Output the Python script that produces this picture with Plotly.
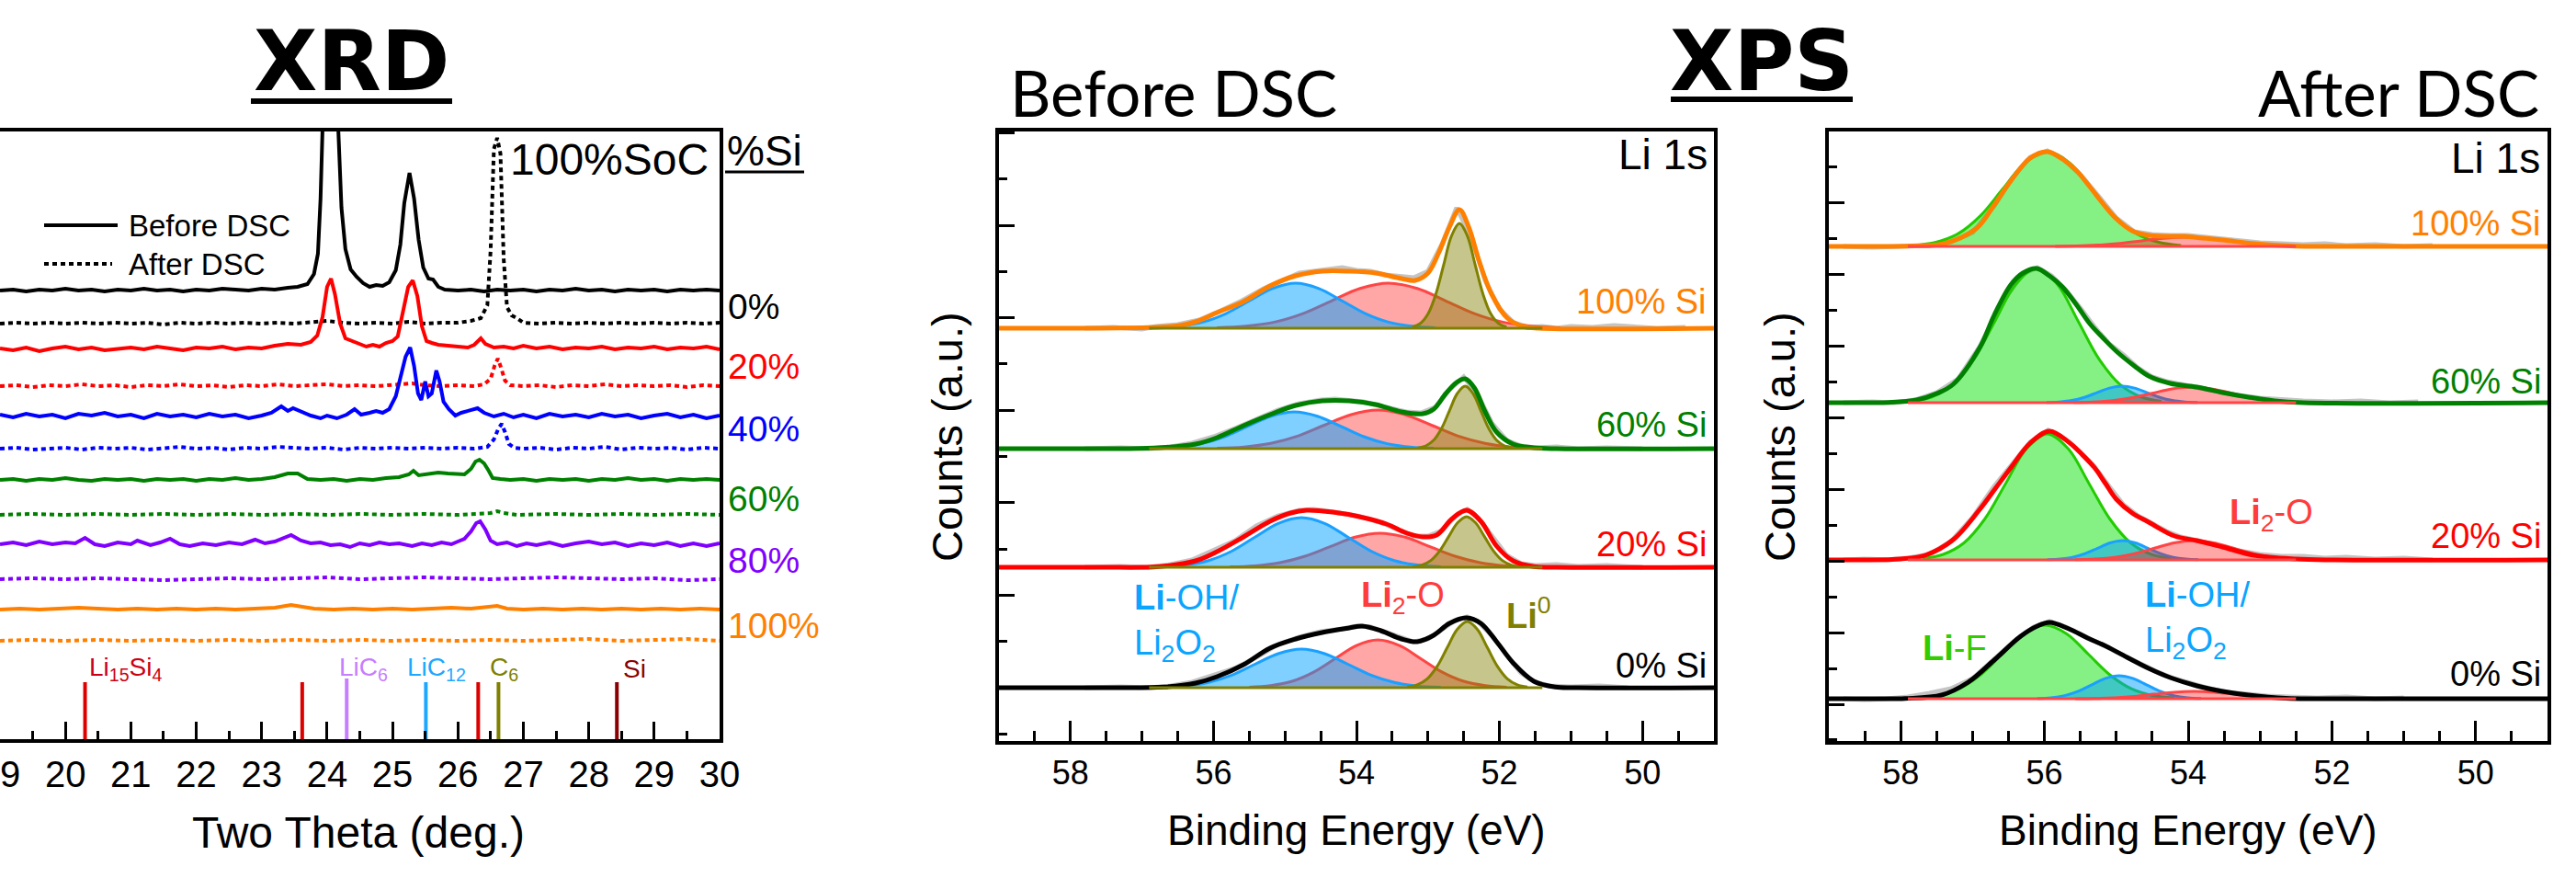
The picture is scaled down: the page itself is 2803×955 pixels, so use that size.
import plotly.graph_objects as go

W, H = 2803, 955
SANS = "Liberation Sans, Arial, Helvetica, sans-serif"
HUMAN = "Lato, Open Sans, sans-serif"
HEAD = "DejaVu Sans, Verdana, sans-serif"

# ======================= XRD data (2theta, intensity above trace baseline) =======================
XRD_SERIES = ["0%", "20%", "40%", "60%", "80%", "100%"]
XRD_COLORS = ["#000000", "#ff0000", "#0000ff", "#008000", "#8000ff", "#ff8000"]
XRD_OFFSET_BEFORE = [488, 424, 351, 282, 212, 141]
XRD_OFFSET_AFTER = [452, 384, 316, 244, 174, 107]

XRD_0_BEFORE = [(19.0,0),(19.2,1),(19.4,-1),(19.6,1),(19.8,0),(20.0,2),(20.2,0),(20.4,1),(20.6,-1),(20.8,1),(21.0,0),(21.2,2),(21.4,0),(21.6,1),(21.8,-1),(22.0,1),(22.2,0),(22.4,2),(22.6,1),(22.8,0),(23.0,2),(23.2,1),(23.4,3),(23.55,4),(23.7,7),(23.8,18),(23.86,40),(23.9,100),(23.94,200),(24.0,330),(24.04,360),(24.1,300),(24.16,190),(24.22,90),(24.28,45),(24.36,23),(24.45,15),(24.55,8),(24.65,4),(24.75,6),(24.85,5),(24.95,9),(25.05,22),(25.12,50),(25.18,95),(25.26,128),(25.33,100),(25.4,55),(25.47,25),(25.55,13),(25.62,12),(25.7,4),(25.8,1),(26.0,0),(26.2,1),(26.4,-1),(26.6,1),(26.8,0),(27.0,1),(27.2,-1),(27.4,1),(27.6,0),(27.8,2),(28.0,0),(28.2,1),(28.4,-1),(28.6,1),(28.8,0),(29.0,1),(29.2,-1),(29.4,1),(29.6,0),(29.8,1),(30.0,0)]
XRD_0_AFTER = [(19.0,0),(19.25,1),(19.5,0),(19.75,1),(20.0,0),(20.25,1),(20.5,0),(20.75,1),(21.0,0),(21.25,1),(21.5,-1),(21.75,1),(22.0,0),(22.25,1),(22.5,0),(22.75,1),(23.0,0),(23.25,1),(23.5,0),(23.75,1),(24.0,3),(24.25,1),(24.5,0),(24.75,1),(25.0,0),(25.25,2),(25.5,0),(25.75,1),(26.0,1),(26.2,3),(26.35,6),(26.45,20),(26.5,80),(26.55,190),(26.6,202),(26.65,185),(26.7,70),(26.75,18),(26.82,9),(26.9,6),(27.0,1),(27.25,0),(27.5,1),(27.75,0),(28.0,1),(28.25,0),(28.5,1),(28.75,0),(29.0,1),(29.25,0),(29.5,1),(29.75,0),(30.0,1)]
XRD_20_BEFORE = [(19.0,1),(19.2,-1),(19.4,2),(19.6,-2),(19.8,1),(20.0,3),(20.2,0),(20.4,2),(20.6,-1),(20.8,1),(21.0,2),(21.2,0),(21.4,3),(21.6,1),(21.8,-1),(22.0,2),(22.2,1),(22.4,3),(22.6,0),(22.8,2),(23.0,1),(23.2,4),(23.4,6),(23.6,5),(23.75,8),(23.85,15),(23.93,35),(24.0,68),(24.06,77),(24.12,60),(24.2,28),(24.28,12),(24.38,9),(24.5,6),(24.6,3),(24.7,5),(24.8,3),(24.9,7),(25.0,9),(25.08,14),(25.16,40),(25.24,68),(25.31,75),(25.38,58),(25.45,25),(25.52,9),(25.6,7),(25.7,5),(25.85,4),(26.0,3),(26.15,2),(26.25,5),(26.35,12),(26.42,6),(26.55,2),(26.7,3),(26.85,1),(27.0,4),(27.2,1),(27.4,3),(27.6,0),(27.8,2),(28.0,1),(28.2,3),(28.4,0),(28.6,2),(28.8,1),(29.0,3),(29.2,0),(29.4,2),(29.6,1),(29.8,3),(30.0,0)]
XRD_20_AFTER = [(19.0,0),(19.25,1),(19.5,-1),(19.75,1),(20.0,0),(20.25,2),(20.5,0),(20.75,1),(21.0,-1),(21.25,1),(21.5,0),(21.75,2),(22.0,0),(22.25,1),(22.5,-1),(22.75,1),(23.0,0),(23.25,2),(23.5,0),(23.75,1),(24.0,2),(24.25,0),(24.5,1),(24.75,0),(25.0,1),(25.3,3),(25.5,1),(25.75,0),(26.0,1),(26.25,0),(26.4,2),(26.5,8),(26.56,22),(26.61,30),(26.66,20),(26.72,6),(26.8,1),(27.0,0),(27.25,1),(27.5,-1),(27.75,1),(28.0,0),(28.25,2),(28.5,0),(28.75,1),(29.0,0),(29.25,1),(29.5,-1),(29.75,1),(30.0,0)]
XRD_40_BEFORE = [(19.0,2),(19.2,-1),(19.4,3),(19.6,0),(19.8,2),(20.0,-2),(20.2,3),(20.4,1),(20.6,4),(20.8,0),(21.0,2),(21.2,-2),(21.4,3),(21.6,0),(21.8,2),(22.0,-1),(22.2,3),(22.4,0),(22.6,2),(22.8,-2),(23.0,1),(23.15,4),(23.3,11),(23.4,6),(23.48,9),(23.6,5),(23.75,1),(23.9,-2),(24.0,1),(24.15,-2),(24.3,2),(24.42,8),(24.52,2),(24.65,4),(24.75,6),(24.85,4),(24.95,8),(25.05,22),(25.13,45),(25.2,65),(25.27,75),(25.33,55),(25.39,25),(25.44,18),(25.5,38),(25.55,22),(25.6,25),(25.67,50),(25.72,38),(25.78,16),(25.86,8),(25.96,1),(26.05,4),(26.2,7),(26.3,9),(26.4,4),(26.55,0),(26.7,3),(26.85,-1),(27.0,2),(27.2,-2),(27.4,3),(27.6,0),(27.8,2),(28.0,-1),(28.2,3),(28.4,0),(28.6,2),(28.8,-2),(29.0,1),(29.2,3),(29.4,-1),(29.6,2),(29.8,-2),(30.0,1)]
XRD_40_AFTER = [(19.0,0),(19.25,1),(19.5,-1),(19.75,0),(20.0,1),(20.25,-1),(20.5,1),(20.75,0),(21.0,1),(21.25,-1),(21.5,0),(21.75,2),(22.0,0),(22.25,1),(22.5,-1),(22.75,1),(23.0,0),(23.25,2),(23.5,1),(23.75,0),(24.0,1),(24.25,-1),(24.5,1),(24.75,0),(25.0,1),(25.25,0),(25.5,1),(25.75,0),(26.0,1),(26.25,0),(26.45,2),(26.55,10),(26.62,22),(26.67,27),(26.72,18),(26.78,5),(26.86,1),(27.0,0),(27.25,1),(27.5,-1),(27.75,1),(28.0,0),(28.25,2),(28.5,-1),(28.75,1),(29.0,0),(29.25,1),(29.5,-1),(29.75,1),(30.0,0)]
XRD_60_BEFORE = [(19.0,0),(19.2,1),(19.4,-1),(19.6,1),(19.8,0),(20.0,2),(20.2,0),(20.4,-1),(20.6,1),(20.8,0),(21.0,1),(21.2,-1),(21.4,1),(21.6,0),(21.8,1),(22.0,-1),(22.2,1),(22.4,0),(22.6,2),(22.8,0),(23.0,1),(23.2,3),(23.4,7),(23.55,7),(23.7,1),(23.9,0),(24.1,1),(24.3,-1),(24.5,1),(24.7,0),(24.9,2),(25.1,3),(25.25,6),(25.32,10),(25.4,5),(25.55,6),(25.7,8),(25.85,7),(26.0,6),(26.1,6),(26.2,12),(26.27,20),(26.33,22),(26.4,18),(26.47,10),(26.53,2),(26.65,1),(26.8,0),(27.0,1),(27.2,-1),(27.4,1),(27.6,0),(27.8,1),(28.0,-1),(28.2,1),(28.4,0),(28.6,2),(28.8,0),(29.0,1),(29.2,-1),(29.4,1),(29.6,0),(29.8,1),(30.0,0)]
XRD_60_AFTER = [(19.0,0),(19.5,1),(20.0,0),(20.5,1),(21.0,0),(21.5,1),(22.0,0),(22.5,1),(23.0,0),(23.5,1),(24.0,0),(24.5,1),(25.0,0),(25.5,1),(26.0,0),(26.3,1),(26.5,2),(26.6,4),(26.7,2),(26.9,0),(27.5,1),(28.0,0),(28.5,1),(29.0,0),(29.5,1),(30.0,0)]
XRD_80_BEFORE = [(19.0,0),(19.2,2),(19.4,-1),(19.6,3),(19.8,0),(20.0,2),(20.15,1),(20.3,7),(20.45,0),(20.6,-2),(20.8,2),(21.0,0),(21.1,4),(21.3,-1),(21.45,2),(21.6,6),(21.75,0),(21.9,-2),(22.1,1),(22.3,-1),(22.5,2),(22.7,0),(22.9,5),(23.05,1),(23.2,3),(23.3,6),(23.45,10),(23.6,4),(23.75,1),(23.9,2),(24.05,-1),(24.2,0),(24.35,-3),(24.5,1),(24.65,-1),(24.8,2),(24.95,0),(25.1,1),(25.3,-2),(25.45,1),(25.6,-1),(25.75,2),(25.9,0),(26.0,3),(26.1,6),(26.2,14),(26.28,23),(26.34,25),(26.42,16),(26.5,4),(26.6,0),(26.75,2),(26.9,-2),(27.05,1),(27.2,-1),(27.4,2),(27.6,-2),(27.8,1),(28.0,3),(28.2,0),(28.4,2),(28.6,-2),(28.8,1),(29.0,-1),(29.2,2),(29.4,-2),(29.6,1),(29.8,-2),(30.0,1)]
XRD_80_AFTER = [(19.0,0),(19.5,1),(20.0,0),(20.5,1),(21.0,0),(21.5,-1),(22.0,0),(22.5,1),(23.0,0),(23.5,1),(24.0,2),(24.5,0),(25.0,1),(25.5,2),(26.0,1),(26.5,0),(27.0,1),(27.5,2),(28.0,1),(28.5,0),(29.0,1),(29.5,-1),(30.0,0)]
XRD_100_BEFORE = [(19.0,0),(19.3,1),(19.6,0),(19.9,1),(20.2,2),(20.5,1),(20.8,0),(21.1,1),(21.4,0),(21.7,1),(22.0,0),(22.3,1),(22.6,0),(22.9,1),(23.2,2),(23.45,5),(23.6,3),(23.8,1),(24.1,0),(24.4,1),(24.7,0),(25.0,1),(25.3,0),(25.6,1),(25.9,2),(26.2,1),(26.45,3),(26.6,4),(26.75,1),(27.0,0),(27.3,1),(27.6,0),(27.9,1),(28.2,0),(28.5,1),(28.8,0),(29.1,1),(29.4,0),(29.7,1),(30.0,0)]
XRD_100_AFTER = [(19.0,0),(19.5,1),(20.0,0),(20.5,1),(21.0,0),(21.5,1),(22.0,0),(22.5,1),(23.0,0),(23.5,1),(24.0,0),(24.5,1),(25.0,0),(25.5,1),(26.0,0),(26.5,1),(27.0,0),(27.5,1),(28.0,2),(28.5,0),(29.0,1),(29.5,2),(30.0,0)]

XRD_BEFORE = [XRD_0_BEFORE, XRD_20_BEFORE, XRD_40_BEFORE, XRD_60_BEFORE, XRD_80_BEFORE, XRD_100_BEFORE]
XRD_AFTER = [XRD_0_AFTER, XRD_20_AFTER, XRD_40_AFTER, XRD_60_AFTER, XRD_80_AFTER, XRD_100_AFTER]

# reference patterns
XRD_REF_POS = [20.3, 23.62, 24.3, 25.51, 26.31, 26.62, 28.43]
XRD_REF_HEIGHT = [62, 62, 66, 62, 62, 62, 62]
XRD_REF_COLORS = ["#dd0000", "#dd0000", "#c77dff", "#1ea7ff", "#dd0000", "#808000", "#8b0000"]
XRD_REF_NAMES = ["Li<sub>15</sub>Si<sub>4</sub>", "LiC<sub>6</sub>", "LiC<sub>12</sub>", "C<sub>6</sub>", "Si"]
XRD_REF_NAME_POS = [20.34, 24.16, 25.2, 26.46, 28.5]
XRD_REF_NAME_COLORS = ["#cc0011", "#c77dff", "#1ea7ff", "#808000", "#8b0000"]
XRD_TICKS = list(range(19, 31))

# ======================= XPS data (binding energy eV, counts above baseline) =======================
XPS_SERIES = ["100% Si", "60% Si", "20% Si", "0% Si"]
XPS_COLORS = ["#ff8000", "#008000", "#ff0000", "#000000"]
XPS_BASE_BEFORE = [449, 318, 189, 58]
XPS_BASE_AFTER = [538, 368, 197, 46]
FIT_RANGE_BEFORE = [56.9, 51.4]
FIT_RANGE_AFTER = [57.9, 52.5]

B_ENV_100 = [(59,0),(57.6,0),(57.0,0.5),(56.83,1),(56.47,3),(56.25,7),(55.95,17),(55.58,29),(55.21,46),(54.85,57),(54.48,62),(54.1,62),(53.73,60),(53.37,54),(53.18,52),(53.0,60),(52.85,82),(52.7,110),(52.56,129),(52.43,110),(52.28,72),(52.11,37),(51.89,11),(51.67,2),(51.45,0),(49,0)]
B_ENV_60 = [(59,0),(57.6,0),(56.83,0.7),(56.25,5),(55.95,12),(55.58,25),(55.21,37),(54.85,47),(54.48,52),(54.1,52),(53.73,48),(53.37,40),(53.07,38),(52.92,43),(52.75,60),(52.6,72),(52.48,76),(52.35,66),(52.2,40),(52.04,18),(51.81,5),(51.52,1),(51.2,0),(49,0)]
B_ENV_20 = [(59,0),(57.6,0),(56.76,0.7),(56.25,7),(55.95,17),(55.58,33),(55.21,50),(54.92,59),(54.7,62),(54.33,60),(53.96,55),(53.58,47),(53.29,37),(53.07,33),(52.88,35),(52.66,53),(52.46,62),(52.26,50),(52.04,23),(51.81,7),(51.52,0.7),(51.2,0),(49,0)]
B_ENV_0 = [(59,0),(57.6,0),(56.69,0.7),(56.25,5),(55.95,12),(55.58,25),(55.21,43),(54.85,53),(54.48,60),(54.1,65),(53.92,67),(53.66,62),(53.37,53),(53.15,50),(52.92,57),(52.7,70),(52.46,76),(52.26,70),(52.04,50),(51.81,27),(51.52,7),(51.22,0.7),(50.9,0),(49,0)]

B100_BLUE = [(56.8,0.5),(56.475,2.2),(56.15,6.6),(55.825,15.9),(55.5,29.7),(55.175,43.2),(54.85,49),(54.525,43.2),(54.2,29.7),(53.875,15.9),(53.55,6.6),(53.225,2.2),(52.9,0.5)]
B100_RED = [(55.95,0.5),(55.55,2.2),(55.15,6.6),(54.75,15.9),(54.35,29.7),(53.95,43.2),(53.55,49),(53.15,43.2),(52.75,29.7),(52.35,15.9),(51.95,6.6),(51.55,2.2),(51.15,0.5)]
B100_LI0 = [(53.22,1.3),(53.11,5),(53.0,15.4),(52.89,37),(52.78,69),(52.67,100.6),(52.56,114),(52.45,100.6),(52.34,69),(52.23,37),(52.12,15.4),(52.01,5),(51.9,1.3)]
B60_BLUE = [(56.82,0.4),(56.495,1.8),(56.17,5.4),(55.845,13),(55.52,24.3),(55.195,35.3),(54.87,40),(54.545,35.3),(54.22,24.3),(53.895,13),(53.57,5.4),(53.245,1.8),(52.92,0.4)]
B60_RED = [(55.95,0.5),(55.575,1.8),(55.2,5.7),(54.825,13.6),(54.45,25.5),(54.075,37),(53.7,42),(53.325,37),(52.95,25.5),(52.575,13.6),(52.2,5.7),(51.825,1.8),(51.45,0.5)]
B60_LI0 = [(53.14,0.8),(53.03,3),(52.92,9.2),(52.81,22),(52.7,41.2),(52.59,60),(52.48,68),(52.37,60),(52.26,41.2),(52.15,22),(52.04,9.2),(51.93,3),(51.82,0.8)]
B20_BLUE = [(56.72,0.6),(56.395,2.4),(56.07,7.3),(55.745,17.5),(55.42,32.8),(55.095,47.7),(54.77,54),(54.445,47.7),(54.12,32.8),(53.795,17.5),(53.47,7.3),(53.145,2.4),(52.82,0.6)]
B20_RED = [(55.77,0.4),(55.42,1.6),(55.07,5),(54.72,12),(54.37,22.4),(54.02,32.7),(53.67,37),(53.32,32.7),(52.97,22.4),(52.62,12),(52.27,5),(51.92,1.6),(51.57,0.4)]
B20_LI0 = [(53.21,0.6),(53.085,2.4),(52.96,7.4),(52.835,17.9),(52.71,33.4),(52.585,48.5),(52.46,55),(52.335,48.5),(52.21,33.4),(52.085,17.9),(51.96,7.4),(51.835,2.4),(51.71,0.6)]
B0_BLUE = [(56.72,0.5),(56.395,1.8),(56.07,5.7),(55.745,13.6),(55.42,25.5),(55.095,37),(54.77,42),(54.445,37),(54.12,25.5),(53.795,13.6),(53.47,5.7),(53.145,1.8),(52.82,0.5)]
B0_RED = [(55.5,0.6),(55.2,2.3),(54.9,7),(54.6,16.9),(54.3,31.5),(54.0,45.9),(53.7,52),(53.4,45.9),(53.1,31.5),(52.8,16.9),(52.5,7),(52.2,2.3),(51.9,0.6)]
B0_LI0 = [(53.29,0.8),(53.15,3.2),(53.01,9.7),(52.87,23.4),(52.73,43.7),(52.59,63.5),(52.45,72),(52.31,63.5),(52.17,43.7),(52.03,23.4),(51.89,9.7),(51.75,3.2),(51.61,0.8)]

G_B100 = [(57.8,0),(57.4,1),(57.0,-1),(56.8,2),(56.5,4),(56.2,9),(55.9,19),(55.6,30),(55.3,43),(55.0,53),(54.8,60),(54.6,62),(54.4,64),(54.2,66),(54.0,63),(53.8,62),(53.6,58),(53.4,56),(53.2,55),(53.0,62),(52.8,92),(52.6,131),(52.4,100),(52.2,52),(52.0,21),(51.8,6),(51.6,1),(51.4,2),(51.2,0),(51.0,2),(50.7,1),(50.4,3),(50.1,1),(49.8,0),(49.4,1)]
G_B60 = [(57.8,0),(57.3,1),(56.9,0),(56.6,2),(56.3,6),(56.0,13),(55.7,22),(55.4,32),(55.1,42),(54.8,49),(54.5,53),(54.3,54),(54.1,53),(53.9,51),(53.7,47),(53.5,44),(53.3,40),(53.1,39),(52.9,45),(52.7,64),(52.5,78),(52.3,58),(52.1,27),(51.9,9),(51.7,3),(51.5,1),(51.2,2),(50.9,0),(50.5,1),(50.0,0)]
G_B20 = [(57.8,0),(57.3,1),(56.9,0),(56.6,3),(56.3,8),(56.0,19),(55.7,29),(55.4,45),(55.1,56),(54.8,62),(54.6,63),(54.4,61),(54.2,59),(54.0,56),(53.8,52),(53.6,47),(53.4,40),(53.2,34),(53.0,34),(52.8,40),(52.6,57),(52.45,63),(52.3,54),(52.1,33),(51.9,13),(51.7,4),(51.5,2),(51.2,3),(50.9,1),(50.5,2),(50.0,0)]
G_B0 = [(57.8,0),(57.3,1),(56.9,0),(56.6,2),(56.3,6),(56.0,13),(55.7,21),(55.4,33),(55.1,47),(54.8,55),(54.5,61),(54.2,64),(54.0,67),(53.8,66),(53.6,61),(53.4,55),(53.2,50),(53.0,53),(52.8,64),(52.6,74),(52.45,77),(52.3,72),(52.1,56),(51.9,35),(51.7,16),(51.5,6),(51.3,2),(51.0,1),(50.6,2),(50.2,0)]

A_ENV_100 = [(59,0),(58.3,0),(57.86,0.5),(57.4,3),(56.94,20),(56.7,45),(56.47,71),(56.2,96),(55.96,103),(55.75,95),(55.55,82),(55.37,65),(55.18,46),(55.0,30),(54.78,17),(54.55,12),(54.3,11),(54.05,11),(53.8,9),(53.52,7),(53.08,3),(52.57,0.5),(52.2,0),(49,0)]
A_ENV_60 = [(59,0),(58.4,0),(58.17,0.3),(57.78,3),(57.5,10),(57.27,20),(56.9,60),(56.7,95),(56.47,128),(56.3,141),(56.11,146),(55.93,138),(55.75,126),(55.55,106),(55.37,86),(55.18,70),(55.0,56),(54.75,40),(54.55,29),(54.25,21),(53.88,17),(53.52,11),(53.16,6),(52.8,2),(52.4,0),(49,0)]
A_ENV_20 = [(59,0),(58.54,0),(58.0,1),(57.66,5),(57.27,22),(56.9,55),(56.68,78),(56.47,100),(56.2,127),(55.93,140),(55.66,128),(55.48,115),(55.3,100),(55.15,83),(55.0,66),(54.78,51),(54.55,41),(54.19,26),(53.88,21),(53.52,14),(53.08,5),(52.5,1),(52.0,0),(49,0)]
A_ENV_0 = [(59,0),(58.3,0),(57.94,0.3),(57.43,4),(57.06,18),(56.7,42),(56.33,68),(56.1,79),(55.93,83),(55.66,76),(55.4,66),(55.14,57),(54.85,45),(54.55,33),(54.25,23),(53.88,14),(53.52,8),(53.16,4),(52.64,0.5),(52.2,0),(49,0)]

A100_LIF = [(57.82,1.1),(57.51,4.5),(57.2,13.9),(56.89,33.4),(56.58,62.5),(56.27,90.9),(55.96,103),(55.65,90.9),(55.34,62.5),(55.03,33.4),(54.72,13.9),(54.41,4.5),(54.1,1.1)]
A100_LI2O = [(55.85,0.1),(55.55,0.4),(55.25,1.4),(54.95,3.2),(54.65,6.1),(54.35,8.8),(54.05,10),(53.75,8.8),(53.45,6.1),(53.15,3.2),(52.85,1.4),(52.55,0.4),(52.25,0.1)]
A60_LIF = [(57.85,1.6),(57.56,6.4),(57.27,19.8),(56.98,47.4),(56.69,88.5),(56.4,128.8),(56.11,146),(55.82,128.8),(55.53,88.5),(55.24,47.4),(54.95,19.8),(54.66,6.4),(54.37,1.6)]
A60_LIOH = [(55.97,0.2),(55.795,0.8),(55.62,2.4),(55.445,5.8),(55.27,10.9),(55.095,15.9),(54.92,18),(54.745,15.9),(54.57,10.9),(54.395,5.8),(54.22,2.4),(54.045,0.8),(53.87,0.2)]
A60_LI2O = [(55.6,0.2),(55.325,0.7),(55.05,2.3),(54.775,5.5),(54.5,10.3),(54.225,15),(53.95,17),(53.675,15),(53.4,10.3),(53.125,5.5),(52.85,2.3),(52.575,0.7),(52.3,0.2)]
A20_LIF = [(57.7,1.5),(57.41,6),(57.12,18.5),(56.83,44.5),(56.54,83.1),(56.25,120.9),(55.96,137),(55.67,120.9),(55.38,83.1),(55.09,44.5),(54.8,18.5),(54.51,6),(54.22,1.5)]
A20_LIOH = [(55.96,0.2),(55.785,0.9),(55.61,2.8),(55.435,6.8),(55.26,12.7),(55.085,18.5),(54.91,21),(54.735,18.5),(54.56,12.7),(54.385,6.8),(54.21,2.8),(54.035,0.9),(53.86,0.2)]
A20_LI2O = [(55.57,0.2),(55.295,0.9),(55.02,2.8),(54.745,6.8),(54.47,12.7),(54.195,18.5),(53.92,21),(53.645,18.5),(53.37,12.7),(53.095,6.8),(52.82,2.8),(52.545,0.9),(52.27,0.2)]
A0_LIF = [(57.79,0.9),(57.49,3.5),(57.19,10.8),(56.89,26),(56.59,48.5),(56.29,70.6),(55.99,80),(55.69,70.6),(55.39,48.5),(55.09,26),(54.79,10.8),(54.49,3.5),(54.19,0.9)]
A0_LIOH = [(56.1,0.3),(55.91,1.1),(55.72,3.4),(55.53,8.1),(55.34,15.2),(55.15,22.1),(54.96,25),(54.77,22.1),(54.58,15.2),(54.39,8.1),(54.2,3.4),(54.01,1.1),(53.82,0.3)]
A0_LI2O = [(55.57,0.1),(55.295,0.3),(55.02,1.1),(54.745,2.6),(54.47,4.9),(54.195,7.1),(53.92,8),(53.645,7.1),(53.37,4.9),(53.095,2.6),(52.82,1.1),(52.545,0.3),(52.27,0.1)]

G_A100 = [(58.8,0),(58.4,-1),(58.0,0),(57.6,1),(57.3,5),(57.0,15),(56.7,44),(56.45,74),(56.2,97),(55.96,104),(55.75,96),(55.5,78),(55.25,55),(55.0,31),(54.75,16),(54.5,13),(54.25,12),(54.0,12),(53.75,10),(53.5,8),(53.25,6),(53.0,4),(52.7,3),(52.4,2),(52.1,3),(51.8,1),(51.4,2),(51.0,0),(50.6,1)]
G_A60 = [(58.8,0),(58.4,1),(58.1,0),(57.8,3),(57.5,11),(57.2,26),(56.9,61),(56.6,108),(56.3,140),(56.1,147),(55.9,138),(55.7,122),(55.5,103),(55.3,82),(55.1,64),(54.9,52),(54.7,38),(54.5,28),(54.3,23),(54.1,20),(53.9,18),(53.7,15),(53.5,11),(53.3,8),(53.0,5),(52.7,3),(52.4,2),(52.0,1),(51.6,2),(51.2,0),(50.8,1)]
G_A20 = [(58.8,0),(58.5,1),(58.2,0),(57.9,2),(57.6,6),(57.3,20),(57.0,46),(56.7,80),(56.45,104),(56.2,128),(55.95,141),(55.7,131),(55.5,117),(55.3,101),(55.1,80),(54.9,60),(54.7,48),(54.5,39),(54.3,31),(54.1,25),(53.9,22),(53.7,18),(53.5,14),(53.3,10),(53.0,6),(52.7,4),(52.4,4),(52.1,2),(51.8,3),(51.4,1),(51.0,2),(50.6,0)]
G_A0 = [(58.8,0),(58.5,-1),(58.2,0),(57.9,2),(57.6,6),(57.3,11),(57.0,22),(56.7,43),(56.4,64),(56.15,78),(55.93,84),(55.7,78),(55.45,69),(55.2,59),(54.95,49),(54.7,39),(54.45,30),(54.2,22),(53.95,16),(53.7,11),(53.45,7),(53.2,5),(52.9,3),(52.6,2),(52.2,1),(51.8,2),(51.4,0),(51.0,1)]

XPS_TICKS = [58, 56, 54, 52, 50]

# ======================= styles =======================
COMP = {
    "red": ("rgba(255,0,0,0.35)", "#ff4545"),
    "blue": ("rgba(0,160,255,0.5)", "#1aa0ff"),
    "olive": ("rgba(128,128,0,0.45)", "#808000"),
    "green": ("rgba(0,225,0,0.48)", "#22cc00"),
}
BEFORE = [
    (B_ENV_100, G_B100, [("red", B100_RED), ("blue", B100_BLUE), ("olive", B100_LI0)]),
    (B_ENV_60, G_B60, [("red", B60_RED), ("blue", B60_BLUE), ("olive", B60_LI0)]),
    (B_ENV_20, G_B20, [("red", B20_RED), ("blue", B20_BLUE), ("olive", B20_LI0)]),
    (B_ENV_0, G_B0, [("red", B0_RED), ("blue", B0_BLUE), ("olive", B0_LI0)]),
]
AFTER = [
    (A_ENV_100, G_A100, [("green", A100_LIF), ("red", A100_LI2O)]),
    (A_ENV_60, G_A60, [("green", A60_LIF), ("blue", A60_LIOH), ("red", A60_LI2O)]),
    (A_ENV_20, G_A20, [("green", A20_LIF), ("blue", A20_LIOH), ("red", A20_LI2O)]),
    (A_ENV_0, G_A0, [("green", A0_LIF), ("blue", A0_LIOH), ("red", A0_LI2O)]),
]


def unzip(pts):
    return [p[0] for p in pts], [p[1] for p in pts]


fig = go.Figure()

# ---------- XRD traces ----------
for i in range(len(XRD_SERIES)):
    x, y = unzip(XRD_BEFORE[i])
    fig.add_trace(go.Scatter(x=x, y=[v + XRD_OFFSET_BEFORE[i] for v in y], mode="lines",
                             line=dict(color=XRD_COLORS[i], width=4), xaxis="x", yaxis="y", hoverinfo="skip"))
    x, y = unzip(XRD_AFTER[i])
    fig.add_trace(go.Scatter(x=x, y=[v + XRD_OFFSET_AFTER[i] for v in y], mode="lines",
                             line=dict(color=XRD_COLORS[i], width=4, dash="5px,4px"), xaxis="x", yaxis="y",
                             hoverinfo="skip"))
for pos, hgt, col in zip(XRD_REF_POS, XRD_REF_HEIGHT, XRD_REF_COLORS):
    fig.add_trace(go.Scatter(x=[pos, pos], y=[0, hgt], mode="lines", line=dict(color=col, width=4),
                             xaxis="x", yaxis="y", hoverinfo="skip"))


# ---------- XPS traces ----------
def add_panel(spectra, bases, fit_range, base_col, xa, ya):
    for k, (env, raw, comps) in enumerate(spectra):
        b = bases[k]
        x, y = unzip(raw)
        fig.add_trace(go.Scatter(x=x, y=[v + b for v in y], mode="lines", line=dict(color="#c4c4c4", width=5),
                                 xaxis=xa, yaxis=ya, hoverinfo="skip"))
        for name, pts in comps:
            fill, lc = COMP[name]
            x, y = unzip(pts)
            fig.add_trace(go.Scatter(x=[x[0], x[-1]], y=[b, b], mode="lines", line=dict(width=0, color="rgba(0,0,0,0)"),
                                     xaxis=xa, yaxis=ya, hoverinfo="skip"))
            fig.add_trace(go.Scatter(x=x, y=[v + b for v in y], mode="lines", fill="tonexty", fillcolor=fill,
                                     line=dict(color=lc, width=3, shape="spline"), xaxis=xa, yaxis=ya,
                                     hoverinfo="skip"))
        x, y = unzip(env)
        fig.add_trace(go.Scatter(x=x, y=[v + b for v in y], mode="lines",
                                 line=dict(color=XPS_COLORS[k], width=5, shape="spline"),
                                 xaxis=xa, yaxis=ya, hoverinfo="skip"))
        fig.add_trace(go.Scatter(x=fit_range, y=[b, b], mode="lines", line=dict(color=base_col, width=3),
                                 xaxis=xa, yaxis=ya, hoverinfo="skip"))


add_panel(BEFORE, XPS_BASE_BEFORE, FIT_RANGE_BEFORE, "#808000", "x2", "y2")
add_panel(AFTER, XPS_BASE_AFTER, FIT_RANGE_AFTER, "#ff4545", "x3", "y3")


# ---------- layout ----------
def fx(p):
    return p / W


def fy(p):
    return 1 - p / H


tickfont = dict(family=SANS, size=40, color="black")
xrd_x = dict(domain=[0, fx(783)], range=[19.0, 30.0], tickvals=XRD_TICKS, ticks="inside", ticklen=19,
             tickwidth=3, tickcolor="black", showline=True, linewidth=4, linecolor="black", mirror=True,
             showgrid=False, zeroline=False, tickfont=tickfont, ticklabeloverflow="allow", anchor="y",
             automargin=False,
             minor=dict(dtick=0.5, tick0=0, ticks="inside", ticklen=9, tickwidth=3, tickcolor="black"))
xrd_y = dict(domain=[fy(804), fy(143)], range=[0, 661], showline=True, linewidth=4, linecolor="black",
             side="right", showticklabels=False, ticks="", showgrid=False, zeroline=False, anchor="x",
             automargin=False)


def xps_x(dom, anchor):
    return dict(domain=dom, range=[59, 49], tickvals=XPS_TICKS, ticks="inside", ticklen=22, tickwidth=3,
                tickcolor="black", showline=True, linewidth=4, linecolor="black", mirror=True,
                showgrid=False, zeroline=False, tickfont=dict(family=SANS, size=36, color="black"),
                anchor=anchor, automargin=False,
                minor=dict(dtick=0.5, tick0=0, ticks="inside", ticklen=11, tickwidth=3, tickcolor="black"))


def xps_y(anchor, t0, dt):
    return dict(domain=[fy(806), fy(143)], range=[0, 663], showline=True, linewidth=4, linecolor="black",
                mirror=True, ticks="inside", tick0=t0, dtick=dt, ticklen=17, tickwidth=3, tickcolor="black",
                showticklabels=False, showgrid=False, zeroline=False, anchor=anchor, automargin=False,
                minor=dict(tick0=t0 - dt / 2, dtick=dt / 2, ticks="inside", ticklen=9, tickwidth=3,
                           tickcolor="black"))


def ann(text, x, y, size, color="black", xanchor="left", family=SANS, angle=0, yanchor="middle"):
    return dict(text=text, x=fx(x), y=fy(y), xref="paper", yref="paper", xanchor=xanchor, yanchor=yanchor,
                showarrow=False, textangle=angle, font=dict(family=family, size=size, color=color))


annotations = [
    ann("<b>XRD</b>", 382, 67, 90, xanchor="center", family=HEAD),
    ann("<b>XPS</b>", 1917, 67, 90, xanchor="center", family=HEAD),
    ann("Before DSC", 1097, 100, 69, family=HUMAN),
    ann("After DSC", 2765, 100, 69, xanchor="right", family=HUMAN),
    ann("Two Theta (deg.)", 390, 905, 48, xanchor="center"),
    ann("Binding Energy (eV)", 1476, 903, 46, xanchor="center"),
    ann("Binding Energy (eV)", 2381, 903, 46, xanchor="center"),
    ann("Counts (a.u.)", 1030, 475, 47, xanchor="center", angle=-90),
    ann("Counts (a.u.)", 1936, 475, 47, xanchor="center", angle=-90),
    ann("100%SoC", 773, 174, 48, xanchor="right"),
    ann("Before DSC", 138, 245, 33),
    ann("After DSC", 138, 287, 33),
    ann("%Si", 789, 164, 46),
    ann("Li 1s", 1860, 168, 46, xanchor="right"),
    ann("Li 1s", 2766, 172, 46, xanchor="right"),
    ann("<b>Li</b>-OH/", 1232, 650, 38, color="#0aa5ff"),
    ann("Li<sub>2</sub>O<sub>2</sub>", 1232, 702, 38, color="#0aa5ff"),
    ann("<b>Li</b><sub>2</sub>-O", 1479, 650, 38, color="#ff3c3c"),
    ann("<b>Li</b><sup>0</sup>", 1637, 667, 38, color="#808000"),
    ann("<b>Li</b>-F", 2090, 705, 38, color="#33cc00"),
    ann("<b>Li</b>-OH/", 2332, 647, 38, color="#0aa5ff"),
    ann("Li<sub>2</sub>O<sub>2</sub>", 2332, 699, 38, color="#0aa5ff"),
    ann("<b>Li</b><sub>2</sub>-O", 2424, 560, 38, color="#ff3c3c"),
]
XRD_LABEL_Y = [333, 398, 467, 542, 609, 680]
for lab, col, yy in zip(XRD_SERIES, XRD_COLORS, XRD_LABEL_Y):
    annotations.append(ann(lab, 790, yy, 39, color=col))
XPS_LABEL_Y_BEFORE = [328, 462, 592, 724]
XPS_LABEL_Y_AFTER = [243, 415, 583, 733]
for lab, col, y1, y2 in zip(XPS_SERIES, XPS_COLORS, XPS_LABEL_Y_BEFORE, XPS_LABEL_Y_AFTER):
    annotations.append(ann(lab, 1859, y1, 38, color=col, xanchor="right"))
    annotations.append(ann(lab, 2767, y2, 38, color=col, xanchor="right"))
for name, pos, col in zip(XRD_REF_NAMES, XRD_REF_NAME_POS, XRD_REF_NAME_COLORS):
    annotations.append(dict(text=name, x=pos, y=77, xref="x", yref="y", xanchor="left", yanchor="middle",
                            showarrow=False, font=dict(family=SANS, size=28, color=col)))


def hline(x0, x1, y, width, dash=None):
    d = dict(type="line", xref="paper", yref="paper", x0=fx(x0), x1=fx(x1), y0=fy(y), y1=fy(y),
             line=dict(color="black", width=width))
    if dash:
        d["line"]["dash"] = dash
    return d


shapes = [
    hline(273, 492, 110, 6),
    hline(1818, 2016, 108, 6),
    hline(789, 875, 187, 3),
    hline(48, 128, 245, 4),
    hline(48, 122, 287, 4, "5px,4px"),
]

fig.update_layout(
    width=W, height=H, margin=dict(l=0, r=0, t=0, b=0, autoexpand=False), paper_bgcolor="white",
    plot_bgcolor="white", showlegend=False, xaxis=xrd_x, yaxis=xrd_y,
    xaxis2=xps_x([fx(1087), fx(1865)], "y2"), yaxis2=xps_y("x2", 58, 100.6),
    xaxis3=xps_x([fx(1990), fx(2772)], "y3"), yaxis3=xps_y("x3", 40, 77.9),
    annotations=annotations, shapes=shapes,
)

fig.write_html("out.html")
